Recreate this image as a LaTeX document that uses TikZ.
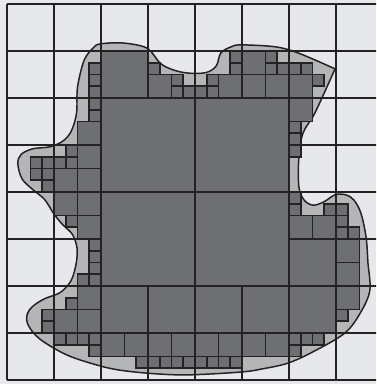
\documentclass[tikz,border=0pt]{standalone}
\usepackage{xcolor}
\usepackage{tikz}
\definecolor{paperbg}{HTML}{E6E8EC}
\definecolor{blobgray}{HTML}{B4B5B7}
\definecolor{cellgray}{HTML}{6E6F72}
\definecolor{inkline}{HTML}{232323}

\tikzset{
  gridline/.style={draw=inkline, line width=1.1pt},
  blobshape/.style={fill=blobgray, draw=inkline, line width=0.9pt},
  cellbox/.style={fill=cellgray, draw=inkline, line width=1.1pt}
}

\begin{document}
\begin{tikzpicture}[x=1cm, y=-1cm]
    \useasboundingbox (-0.149,-0.085) rectangle (7.851,8.085);
    \clip (-0.149,-0.085) rectangle (7.851,8.085);
    \fill[paperbg] (-0.149,-0.085) rectangle (7.851,8.085);
    % region to approximate
    \draw[blobshape] plot[smooth, tension=0.55] coordinates {
      (6.98,1.38) (6.55,2.32) (6.30,2.74) (6.21,3.26) (6.21,3.89) (6.32,4.17)
      (6.51,4.28) (6.74,4.21) (6.98,4.06) (7.21,4.06) (7.38,4.17) (7.53,4.45)
      (7.64,4.96) (7.68,5.51) (7.72,6.09) (7.53,6.55) (7.19,7.00) (6.51,7.40)
      (5.98,7.64) (5.45,7.76) (4.98,7.83) (3.89,7.89) (3.19,7.87) (2.47,7.80)
      (1.98,7.70) (1.28,7.47) (0.70,7.13) (0.45,6.83) (0.43,6.60) (0.55,6.43)
      (0.80,6.27) (1.13,6.14) (1.36,5.89) (1.47,5.53) (1.49,5.19) (1.39,4.90)
      (1.19,4.70) (1.00,4.47) (0.80,4.16) (0.55,3.95) (0.32,3.72) (0.23,3.40)
      (0.30,3.20) (0.55,3.08) (0.90,3.04) (1.17,2.93) (1.36,2.72) (1.48,2.32)
      (1.50,1.77) (1.64,1.20) (1.83,0.94) (1.98,0.85) (2.47,0.83) (2.98,0.94)
      (3.26,1.26) (3.53,1.40) (3.85,1.47) (4.23,1.46) (4.45,1.32) (4.55,1.04)
      (4.77,0.91) (4.98,0.87) (5.70,0.91) (6.19,1.04) (6.98,1.38)} -- cycle;
    % grid
    \foreach \k in {0,...,8} {
      \draw[gridline] (\k,0) -- (\k,8);
      \draw[gridline] (0,\k) -- (8,\k);
    }
    % quadtree cells: x/y/size
    \foreach \cx/\cy/\cs in {2/2/2, 4/2/2, 2/4/2, 4/4/2,
        2/1/1, 6/5/1, 6/6/1, 5/6/1, 4/6/1, 2/6/1, 3/6/1,
        1.5/2.5/.5, 3/1.5/.5, 4.5/1.5/.5, 5/1/.5, 5/1.5/.5, 5.5/1.5/.5,
        6/1.5/.5, 6/2/.5, 6/4.5/.5, 6.5/4.5/.5, 7/5/.5, 7/5.5/.5, 7/6/.5,
        5/7/.5, 5.5/7/.5, 4/7/.5, 4.5/7/.5, 2/7/.5, 2.5/7/.5, 3/7/.5,
        3.5/7/.5, 1.5/6/.5, 1/6.5/.5, 1.5/6.5/.5, 1/4/.5, 1.5/4/.5,
        1.5/4.5/.5, 1.5/3/.5, 1.5/3.5/.5, 1/3.5/.5,
        1.75/1.25/.25, 1.75/1.5/.25, 1.75/1.75/.25, 1.75/2/.25, 1.75/2.25/.25,
        3/1.25/.25, 3.5/1.5/.25, 3.5/1.75/.25, 3.75/1.75/.25,
        4/1.75/.25, 4.25/1.5/.25, 4.25/1.75/.25, 4.75/1/.25, 4.75/1.25/.25,
        5.5/1/.25, 5.5/1.25/.25, 5.75/1.25/.25, 6/1.25/.25, 6.25/1.25/.25,
        6.5/1.5/.25, 6/2.5/.25, 6/2.75/.25, 6/3/.25,
        6/4/.25, 6/4.25/.25, 6.75/4.25/.25, 7/4.25/.25, 7/4.5/.25,
        7/4.75/.25, 7.25/4.75/.25, 7/6.5/.25,
        6/7/.25, 6.25/7/.25, 6.5/7/.25, 6/7.25/.25,
        2.75/7.5/.25, 3/7.5/.25, 3.25/7.5/.25, 3.5/7.5/.25, 3.75/7.5/.25,
        4/7.5/.25, 4.25/7.5/.25, 4.5/7.5/.25, 4.75/7.5/.25,
        1/7/.25, 1.25/7/.25, 1.5/7/.25, 1.75/7/.25, 1.75/7.25/.25,
        0.75/6.5/.25, 0.75/6.75/.25, 1.25/6.25/.25,
        1.75/5/.25, 1.75/5.25/.25, 1.75/5.5/.25, 1.75/5.75/.25, 1.5/5.75/.25,
        1.25/4.5/.25, 1.25/3/.25, 0.5/3.25/.25, 0.75/3.25/.25, 1/3.25/.25,
        1.25/3.25/.25, 0.5/3.5/.25, 0.75/3.5/.25, 0.75/3.75/.25}
      \draw[cellbox] (\cx,\cy) rectangle ++(\cs,\cs);
\end{tikzpicture}
\end{document}
